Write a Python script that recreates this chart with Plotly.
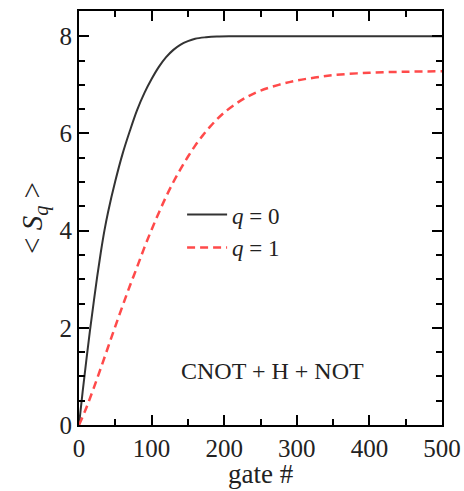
import plotly.graph_objects as go

# Mean entropy <S_q> versus number of gates applied (CNOT + H + NOT circuits)
gates_q0 = [0, 5, 10, 15, 20, 25, 30, 35, 40, 50, 60, 70, 80, 90, 100, 110, 120, 130, 140, 150,
            160, 175, 190, 210, 300, 400, 500]
s_q0 = [0.0, 0.68, 1.32, 1.93, 2.5, 3.05, 3.55, 4.0, 4.38, 5.02, 5.58, 6.05, 6.48, 6.83, 7.12, 7.37,
        7.57, 7.72, 7.83, 7.9, 7.95, 7.98, 7.995, 8.0, 8.0, 8.0, 8.0]

gates_q1 = [0, 10, 20, 30, 40, 50, 60, 70, 80, 90, 100, 110, 120, 130, 140, 150, 160, 170, 180, 190,
            200, 215, 230, 250, 275, 300, 325, 350, 400, 450, 500]
s_q1 = [0.0, 0.35, 0.75, 1.17, 1.6, 2.03, 2.45, 2.86, 3.25, 3.65, 4.02, 4.37, 4.7, 5.0, 5.27, 5.52,
        5.75, 5.95, 6.13, 6.29, 6.43, 6.6, 6.74, 6.88, 7.0, 7.09, 7.15, 7.2, 7.25, 7.27, 7.28]

x_ticks = [0, 100, 200, 300, 400, 500]
y_ticks = [0, 2, 4, 6, 8]

serif = "Liberation Serif, Times New Roman, serif"
ink = "#222222"

fig = go.Figure()
fig.add_trace(go.Scatter(
    x=gates_q0, y=s_q0, mode="lines", name="<i>q</i> = 0",
    line=dict(color="#333333", width=2, shape="spline", smoothing=1.0),
))
fig.add_trace(go.Scatter(
    x=gates_q1, y=s_q1, mode="lines", name="<i>q</i> = 1",
    line=dict(color="#ff4a4a", width=2.5, dash="8px,5px", shape="spline", smoothing=1.0),
))

axis_common = dict(
    showline=True, linecolor="black", linewidth=2, mirror="allticks",
    ticks="inside", ticklen=10, tickwidth=1.5, tickcolor="black",
    showgrid=False, zeroline=False, automargin=False,
    tickfont=dict(family=serif, size=25, color=ink),
)

fig.update_xaxes(
    range=[0, 500], tickvals=x_ticks,
    minor=dict(dtick=50, ticks="inside", ticklen=6, tickwidth=1.5, tickcolor="black", showgrid=False),
    **axis_common,
)
fig.update_yaxes(
    range=[0, 8.52], tickvals=y_ticks,
    minor=dict(dtick=0.5, ticks="inside", ticklen=6, tickwidth=1.5, tickcolor="black", showgrid=False),
    title=dict(text="&lt; <i>S</i><sub><i>q</i></sub> &gt;", font=dict(family=serif, size=29, color=ink), standoff=8),
    **axis_common,
)

# x-axis title placed just under the tick labels
fig.add_annotation(
    x=0.5, y=-0.118, xref="paper", yref="paper", text="gate #", showarrow=False,
    yanchor="middle", font=dict(family=serif, size=27, color=ink),
)

fig.add_annotation(
    x=266, y=1.12, xref="x", yref="y", text="CNOT + H + NOT", showarrow=False,
    font=dict(family=serif, size=24, color=ink),
)

fig.update_layout(
    width=464, height=491,
    margin=dict(l=79, r=22, t=11, b=66),
    paper_bgcolor="white", plot_bgcolor="white",
    showlegend=True,
    legend=dict(
        x=0.284, y=0.56, xanchor="left", yanchor="top",
        bgcolor="rgba(0,0,0,0)", borderwidth=0,
        font=dict(family=serif, size=23, color=ink),
        itemwidth=40,
    ),
)

fig.write_html("out.html")
